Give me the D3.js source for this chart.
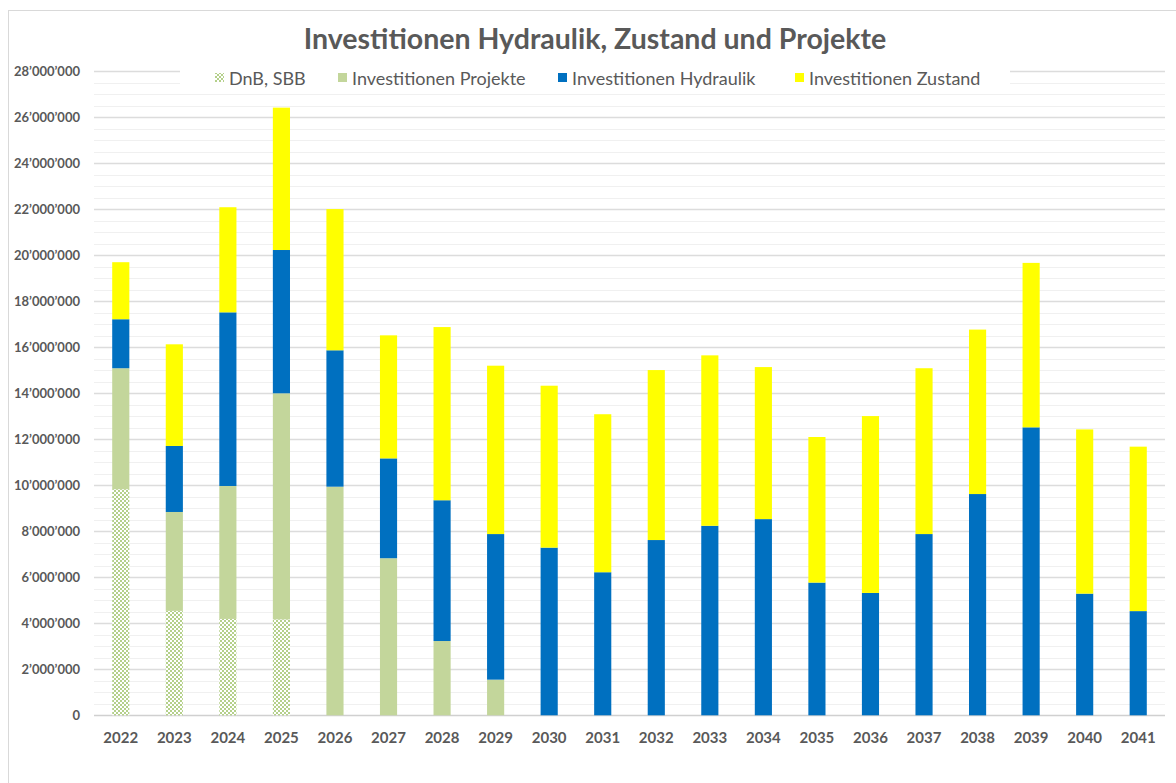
<!DOCTYPE html>
<html>
<head>
<meta charset="utf-8">
<script src="https://cdn.jsdelivr.net/npm/d3@7"></script>
<style>
  html, body { margin: 0; padding: 0; background: #fff; }
  svg { display: block; }
  text { font-family: Lato, "Noto Sans", sans-serif; }
</style>
</head>
<body>
<svg id="chart" width="1176" height="783"></svg>
<script>
const title = "Investitionen Hydraulik, Zustand und Projekte";
const years = ["2022","2023","2024","2025","2026","2027","2028","2029","2030","2031",
               "2032","2033","2034","2035","2036","2037","2038","2039","2040","2041"];
const seriesNames = ["DnB, SBB", "Investitionen Projekte", "Investitionen Hydraulik", "Investitionen Zustand"];
const dnbSbb = [9830000, 4540000, 4190000, 4170000, 0, 0, 0, 0, 0, 0,
                0, 0, 0, 0, 0, 0, 0, 0, 0, 0];
const projekte = [5260000, 4300000, 5780000, 9830000, 9940000, 6830000, 3230000, 1550000, 0, 0,
                  0, 0, 0, 0, 0, 0, 0, 0, 0, 0];
const hydraulik = [2130000, 2870000, 7550000, 6230000, 5930000, 4340000, 6120000, 6330000, 7290000, 6220000,
                   7620000, 8240000, 8530000, 5770000, 5320000, 7880000, 9620000, 12520000, 5290000, 4530000];
const zustand = [2480000, 4420000, 4570000, 6190000, 6140000, 5350000, 7530000, 7320000, 7040000, 6870000,
                 7390000, 7410000, 6610000, 6330000, 7690000, 7210000, 7150000, 7150000, 7140000, 7150000];
const yMax = 28000000;
const yMajorStep = 2000000;
const yMinorStep = 500000;

const colors = ["url(#checker)", "#c3d69b", "#0070c0", "#ffff00"];

const svg = d3.select("#chart");
const defs = svg.append("defs");
const pat = defs.append("pattern").attr("id", "checker")
  .attr("patternUnits", "userSpaceOnUse").attr("width", 4).attr("height", 4);
pat.append("rect").attr("width", 4).attr("height", 4).attr("fill", "#ffffff");
pat.append("rect").attr("x", 0).attr("y", 0).attr("width", 2).attr("height", 2).attr("fill", "#b4d08a");
pat.append("rect").attr("x", 2).attr("y", 2).attr("width", 2).attr("height", 2).attr("fill", "#b4d08a");

// outer chart border
svg.append("rect").attr("x", 8.5).attr("y", 10.5).attr("width", 1300).attr("height", 900)
  .attr("fill", "none").attr("stroke", "#d9d9d9");

const plotLeft = 94, plotRight = 1165, plotTop = 71.3, plotBottom = 715.3;
const x = d3.scaleBand().domain(years).range([plotLeft, plotRight]).paddingInner(0.68).paddingOuter(0.34);
const y = d3.scaleLinear().domain([0, yMax]).range([plotBottom, plotTop]);

// gridlines
const gridVals = d3.range(0, yMax + 1, yMinorStep);
svg.append("g").selectAll("line").data(gridVals).join("line")
  .attr("x1", plotLeft).attr("x2", plotRight)
  .attr("y1", d => Math.round(y(d)) + 0.5).attr("y2", d => Math.round(y(d)) + 0.5)
  .attr("stroke", d => d === 0 ? "#d0d0d0" : (d % yMajorStep === 0 ? "#dcdcdc" : "#f0f0f0"))
  .attr("stroke-width", d => (d % yMajorStep === 0) ? 1.5 : 1);

// stacked bars
const rows = years.map((yr, i) => ({year: yr, s0: dnbSbb[i], s1: projekte[i], s2: hydraulik[i], s3: zustand[i]}));
const stack = d3.stack().keys(["s0","s1","s2","s3"]);
const stacked = stack(rows);
svg.append("g").selectAll("g").data(stacked).join("g")
  .attr("fill", (d, i) => colors[i])
  .selectAll("rect").data(d => d.filter(p => p[1] - p[0] > 0)).join("rect")
  .attr("x", d => x(d.data.year))
  .attr("width", x.bandwidth())
  .attr("y", d => y(d[1]))
  .attr("height", d => y(d[0]) - y(d[1]));

// y axis
const fmtLocale = d3.formatLocale({decimal: ".", thousands: "\u2019", grouping: [3], currency: ["", ""]});
const fmt = fmtLocale.format(",");
const yAxis = d3.axisLeft(y).tickValues(d3.range(0, yMax + 1, yMajorStep)).tickFormat(fmt).tickSize(0).tickPadding(0);
const yg = svg.append("g").attr("transform", "translate(80,0)").call(yAxis);
yg.select(".domain").remove();
yg.selectAll("text").attr("fill", "#595959").attr("font-size", 13).attr("font-weight", "bold")
  .attr("font-family", "Lato, 'Noto Sans', sans-serif").attr("dy", "0.35em");

// x axis
const xAxis = d3.axisBottom(x).tickSize(0).tickPadding(0);
const xg = svg.append("g").attr("transform", `translate(0,${plotBottom})`).call(xAxis);
xg.select(".domain").remove();
xg.selectAll("text").attr("fill", "#595959").attr("font-size", 15).attr("font-weight", "bold")
  .attr("font-family", "Lato, 'Noto Sans', sans-serif").attr("dy", 0).attr("y", 28);

// title
svg.append("text").attr("x", 595).attr("y", 49).attr("text-anchor", "middle")
  .attr("font-size", 28.5).attr("font-weight", "bold").attr("fill", "#595959").text(title);

// legend
svg.append("rect").attr("x", 180).attr("y", 64).attr("width", 830).attr("height", 28).attr("fill", "#fff");
const legendX = [215, 338, 558, 795];
const lg = svg.append("g").selectAll("g").data(seriesNames).join("g")
  .attr("transform", (d, i) => `translate(${legendX[i]},0)`);
lg.append("rect").attr("x", 0).attr("y", 73).attr("width", 9).attr("height", 9)
  .attr("fill", (d, i) => colors[i]);
lg.append("text").attr("x", 14).attr("y", 85).attr("font-size", 18).attr("fill", "#595959").text(d => d);
</script>
</body>
</html>
